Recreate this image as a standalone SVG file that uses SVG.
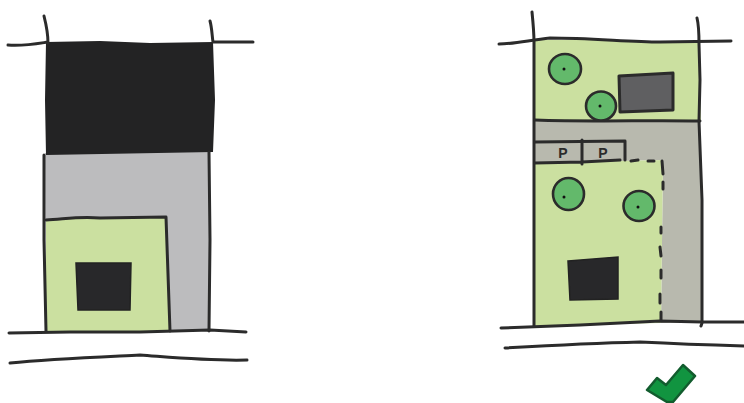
<svg xmlns="http://www.w3.org/2000/svg" width="744" height="403" viewBox="0 0 744 403">
<style>
.l{fill:none;stroke:#2b2b2b;stroke-width:3;stroke-linecap:round;stroke-linejoin:round}
.t{stroke:#2b2b2b;stroke-width:2.6;fill:#63b96b;stroke-linejoin:round}
.d{fill:#111}
.g{fill:#cbe0a0}
.r{fill:#b8b9ae}
text{font-family:"Liberation Sans",Arial,sans-serif;font-weight:700;font-size:14px;fill:#2b2b2b;text-anchor:middle}
</style>
<rect width="744" height="403" fill="#fff"/>
<g id="before">
<path d="M45 153L210 151L210 331L46 331Z" fill="#bcbcbe"/>
<path d="M46 42L100 41L150 43L213 42L215 100L213 152L46 155L45 100Z" fill="#232324"/>
<path class="g" d="M46 219L166 217L170 331L46 331Z"/>
<path class="l" d="M44 16C46 24 48 34 48 43M210 21C212 28 212 36 213 42M8 45C25 46 35 44 48 42M213 42L253 42"/>
<path class="l" d="M44 155L44 240L46 331M209 152L210 240L209 331"/>
<path class="l" d="M46 220C65 219 80 216 100 218L166 217L170 331"/>
<path id="street-a" class="l" d="M9 333L70 332L140 332L210 330L246 332M10 363C50 359 100 357 140 355C180 358 210 361 247 360"/>
<path d="M76 263L131 263L130 310L78 310Z" fill="#28282a" stroke="#222" stroke-width="1.500"/>
</g>
<g id="after">
<path class="g" d="M535 40L600 40L699 43L701 122L535 120Z"/>
<path class="r" d="M535 120L700 121L702 323L661 323L663 160L535 163Z"/>
<path class="g" d="M535 163L663 160L661 323L535 326Z"/>
<path class="l" d="M532 12C533 22 534 32 534 42L534 120L534 163L534 326M697 18C699 26 699 36 699 44L700 80L699 121L702 200L702 323L701 326"/>
<path class="l" d="M499 44C515 44 530 40 550 38C590 38 630 42 660 42L731 41"/>
<path class="l" d="M535 120C590 122 650 120 700 121"/>
<path class="l" d="M535 142L625 141L625 160M582 140L582 164M535 163L582 162L620 160"/>
<path class="l" d="M631 161L638 160M648 161L654 161M662 161L663 174M663 182L663 189M661 227L661 233M660 247L661 256M661 270L661 278M660 294L660 303M661 312L661 320"/>
<path id="street-b" class="l" d="M501 328L580 325L660 321L702 322L744 322M505 348C540 346 600 343 640 342C680 344 710 345 744 346"/>
<ellipse class="t" cx="565" cy="69" rx="16" ry="15"/>
<ellipse class="t" cx="601" cy="106" rx="15" ry="14.500"/>
<ellipse class="t" cx="568.500" cy="194" rx="15.500" ry="16"/>
<ellipse class="t" cx="639" cy="206" rx="15.500" ry="15"/>
<circle class="d" cx="564" cy="69" r="1.500"/>
<circle class="d" cx="600" cy="106" r="1.500"/>
<circle class="d" cx="564" cy="197" r="1.500"/>
<circle class="d" cx="638" cy="207" r="1.500"/>
<path d="M619 76L673 73L673 110L620 112Z" fill="#5f5f61" stroke="#2b2b2b" stroke-width="3" stroke-linejoin="round"/>
<path d="M568 261L618 257L618 299L570 300Z" fill="#28282a" stroke="#222" stroke-width="1.500"/>
<text x="563" y="158">P</text>
<text x="603" y="158">P</text>
<path d="M647 390L657 378L666 385L683 365L695 376L673 402L667 402Z" fill="#119440" stroke="#125c2e" stroke-width="2.500" stroke-linejoin="round"/>
</g>
</svg>
